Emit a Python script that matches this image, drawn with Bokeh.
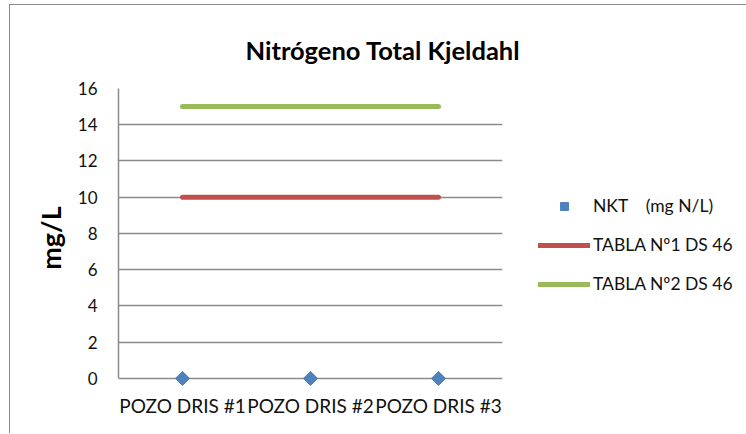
import math
from bokeh.plotting import figure
from bokeh.models import Legend, LegendItem, FactorRange
from bokeh.embed import file_html
from bokeh.resources import INLINE

categories = ["POZO DRIS #1", "POZO DRIS #2", "POZO DRIS #3"]
nkt = [0, 0, 0]
tabla1 = [10, 10, 10]
tabla2 = [15, 15, 15]
y_ticks = [0, 2, 4, 6, 8, 10, 12, 14, 16]

FONT = "Lato"
GRID = "#8a8a8a"

p = figure(x_range=FactorRange(*categories), y_range=(-0.5, 16),
           frame_width=384, frame_height=299, output_backend="svg", toolbar_location=None,
           min_border_left=108, min_border_right=244, min_border_top=83, min_border_bottom=46)
p.title.text = "Nitrógeno Total Kjeldahl"
p.title.text_font = FONT
p.title.text_font_size = "25.5px"
p.title.text_font_style = "bold"
p.title.align = "left"
p.title.offset = 127
p.title.standoff = 47
p.title.text_color = "#000000"

p.outline_line_color = None
p.xgrid.grid_line_color = None
p.ygrid.grid_line_color = GRID
p.ygrid.grid_line_width = 1.5
p.yaxis.ticker = y_ticks

for ax in (p.xaxis[0], p.yaxis[0]):
    ax.major_tick_line_color = None
    ax.minor_tick_line_color = None
    ax.major_label_text_font = FONT
    ax.major_label_text_color = "#111111"
p.xaxis.major_label_text_font_size = "19px"
p.yaxis.major_label_text_font_size = "17px"
p.xaxis.axis_line_color = None
p.yaxis.axis_line_color = GRID
p.yaxis.axis_line_width = 1.5
p.yaxis.bounds = (0, 16)
p.xaxis.major_label_standoff = 0
p.yaxis.major_label_standoff = 15
p.yaxis.axis_label = "mg/L"
p.yaxis.axis_label_text_font = FONT
p.yaxis.axis_label_text_font_size = "27px"
p.yaxis.axis_label_text_font_style = "bold"
p.yaxis.axis_label_text_color = "#000000"
p.yaxis.axis_label_standoff = 8

r2 = p.line(categories, tabla1, line_color="#C0504D", line_width=5, line_cap="round")
r3 = p.line(categories, tabla2, line_color="#9BBB59", line_width=5, line_cap="round")
r1 = p.scatter(categories, nkt, marker="square", size=10, angle=math.pi / 4,
               fill_color="#4F81BD", line_color="#4F81BD")

legend = Legend(items=[
    LegendItem(label="NKT\u00a0\u00a0\u00a0 (mg N/L)", renderers=[r1]),
    LegendItem(label="TABLA Nº1 DS 46", renderers=[r2]),
    LegendItem(label="TABLA Nº2 DS 46", renderers=[r3]),
], location=(36, 93))
legend.border_line_color = None
legend.background_fill_alpha = 0
legend.padding = 0
legend.margin = 0
legend.glyph_width = 52
legend.glyph_height = 20
legend.spacing = 18
legend.label_standoff = 3
legend.label_text_font = FONT
legend.label_text_font_size = "17.5px"
legend.label_text_color = "#111111"
p.add_layout(legend, "right")

p.styles = {"border-left": "1px solid #8c8c8c", "border-top": "1px solid #8c8c8c",
            "margin-left": "9px", "margin-top": "4px"}

open("out.html", "w").write(file_html(p, INLINE))
